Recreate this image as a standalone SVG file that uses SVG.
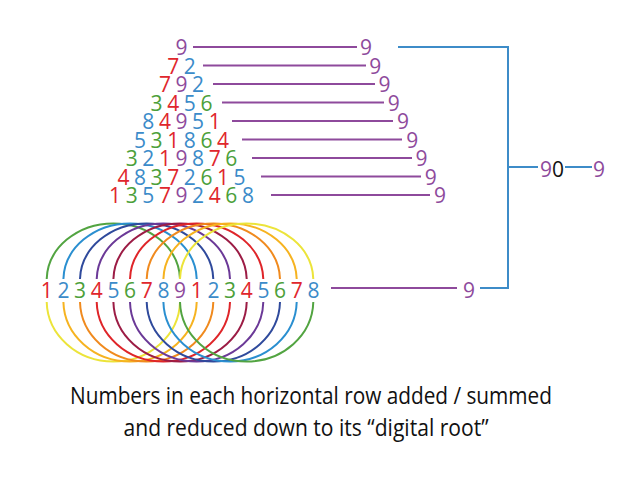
<svg xmlns="http://www.w3.org/2000/svg" width="640" height="502" viewBox="0 0 640 502">
<style>
text{font-family:"Open Sans","Noto Sans","Liberation Sans",sans-serif}
.d{font-size:21px;text-anchor:middle}
.r{fill:#e0262c}.b{fill:#3b8bc9}.g{fill:#4c9f3a}.p{fill:#8e4a9c}.k{fill:#111}
.pl{stroke:#8e4a9c;stroke-width:2;fill:none}
.bl{stroke:#3d8cc8;stroke-width:2;fill:none}
.arc{fill:none;stroke-width:2}
.cap{font-size:24.5px;fill:#111;text-anchor:middle}
</style>
<rect width="640" height="502" fill="#fff"/>

<g id="circles">
<path class="arc" stroke="#52a441" d="M46.7,279A66.67,57 0 0 1 180,279"/>
<path class="arc" stroke="#2a8fd0" d="M63.4,279A66.67,57 0 0 1 196.7,279"/>
<path class="arc" stroke="#2f4a9c" d="M80,279A66.67,57 0 0 1 213.3,279"/>
<path class="arc" stroke="#6b3997" d="M96.7,279A66.67,57 0 0 1 230,279"/>
<path class="arc" stroke="#9c1c45" d="M113.4,279A66.67,57 0 0 1 246.7,279"/>
<path class="arc" stroke="#df2529" d="M130,279A66.67,57 0 0 1 263.3,279"/>
<path class="arc" stroke="#f08a1e" d="M146.7,279A66.67,57 0 0 1 280,279"/>
<path class="arc" stroke="#f6b320" d="M163.4,279A66.67,57 0 0 1 296.7,279"/>
<path class="arc" stroke="#ece43a" d="M180,279A66.67,57 0 0 1 313.3,279"/>

<path class="arc" stroke="#ece43a" d="M46.7,302A66.67,61 0 0 0 180,302"/>
<path class="arc" stroke="#f6b320" d="M63.4,302A66.67,61 0 0 0 196.7,302"/>
<path class="arc" stroke="#f08a1e" d="M80,302A66.67,61 0 0 0 213.3,302"/>
<path class="arc" stroke="#df2529" d="M96.7,302A66.67,61 0 0 0 230,302"/>
<path class="arc" stroke="#9c1c45" d="M113.4,302A66.67,61 0 0 0 246.7,302"/>
<path class="arc" stroke="#6b3997" d="M130,302A66.67,61 0 0 0 263.3,302"/>
<path class="arc" stroke="#2f4a9c" d="M146.7,302A66.67,61 0 0 0 280,302"/>
<path class="arc" stroke="#2a8fd0" d="M163.4,302A66.67,61 0 0 0 296.7,302"/>
<path class="arc" stroke="#52a441" d="M180,302A66.67,61 0 0 0 313.3,302"/>
</g>

<g id="connectors">
<line class="pl" x1="193" y1="47" x2="357" y2="47"/>
<line class="pl" x1="203" y1="65.5" x2="366" y2="65.5"/>
<line class="pl" x1="213" y1="84" x2="375" y2="84"/>
<line class="pl" x1="222" y1="102.5" x2="384" y2="102.5"/>
<line class="pl" x1="232" y1="121" x2="393" y2="121"/>
<line class="pl" x1="242" y1="139.5" x2="402" y2="139.5"/>
<line class="pl" x1="252" y1="158" x2="412" y2="158"/>
<line class="pl" x1="261" y1="176.5" x2="421" y2="176.5"/>
<line class="pl" x1="271" y1="195" x2="430" y2="195"/>
<line class="pl" x1="331" y1="288" x2="457" y2="288"/>
<path class="bl" d="M398,47H508V288H480"/>
<line class="bl" x1="508" y1="167" x2="538" y2="167"/>
<line class="bl" x1="565" y1="167" x2="592" y2="167"/>
</g>

<g id="row1"><text class="d" y="55"><tspan class="p" x="181.5">9</tspan></text></g>
<g id="row2"><text class="d" y="73.5"><tspan class="r" x="173.2">7</tspan><tspan class="b" x="189.8">2</tspan></text></g>
<g id="row3"><text class="d" y="92"><tspan class="r" x="164.9">7</tspan><tspan class="p" x="181.5">9</tspan><tspan class="b" x="198.1">2</tspan></text></g>
<g id="row4"><text class="d" y="110.5"><tspan class="g" x="156.6">3</tspan><tspan class="r" x="173.2">4</tspan><tspan class="b" x="189.8">5</tspan><tspan class="g" x="206.4">6</tspan></text></g>
<g id="row5"><text class="d" y="129"><tspan class="b" x="148.3">8</tspan><tspan class="r" x="164.9">4</tspan><tspan class="p" x="181.5">9</tspan><tspan class="b" x="198.1">5</tspan><tspan class="r" x="214.7">1</tspan></text></g>
<g id="row6"><text class="d" y="147.5"><tspan class="b" x="140">5</tspan><tspan class="g" x="156.6">3</tspan><tspan class="r" x="173.2">1</tspan><tspan class="b" x="189.8">8</tspan><tspan class="g" x="206.4">6</tspan><tspan class="r" x="223">4</tspan></text></g>
<g id="row7"><text class="d" y="166"><tspan class="g" x="131.7">3</tspan><tspan class="b" x="148.3">2</tspan><tspan class="r" x="164.9">1</tspan><tspan class="p" x="181.5">9</tspan><tspan class="b" x="198.1">8</tspan><tspan class="r" x="214.7">7</tspan><tspan class="g" x="231.3">6</tspan></text></g>
<g id="row8"><text class="d" y="184.5"><tspan class="r" x="123.4">4</tspan><tspan class="b" x="140">8</tspan><tspan class="g" x="156.6">3</tspan><tspan class="r" x="173.2">7</tspan><tspan class="b" x="189.8">2</tspan><tspan class="g" x="206.4">6</tspan><tspan class="r" x="223">1</tspan><tspan class="b" x="239.6">5</tspan></text></g>
<g id="row9"><text class="d" y="203"><tspan class="r" x="115.1">1</tspan><tspan class="g" x="131.7">3</tspan><tspan class="b" x="148.3">5</tspan><tspan class="r" x="164.9">7</tspan><tspan class="p" x="181.5">9</tspan><tspan class="b" x="198.1">2</tspan><tspan class="r" x="214.7">4</tspan><tspan class="g" x="231.3">6</tspan><tspan class="b" x="247.9">8</tspan></text></g>

<g id="sums">
<text class="d p" x="366" y="55">9</text>
<text class="d p" x="375.3" y="73.5">9</text>
<text class="d p" x="384.5" y="92">9</text>
<text class="d p" x="393.8" y="110.5">9</text>
<text class="d p" x="403" y="129">9</text>
<text class="d p" x="412.3" y="147.5">9</text>
<text class="d p" x="421.5" y="166">9</text>
<text class="d p" x="430.8" y="184.5">9</text>
<text class="d p" x="440" y="203">9</text>
</g>

<g id="bottomrow"><text class="d" y="297.5"><tspan class="r" x="46.7">1</tspan><tspan class="b" x="63.4">2</tspan><tspan class="g" x="80">3</tspan><tspan class="r" x="96.7">4</tspan><tspan class="b" x="113.4">5</tspan><tspan class="g" x="130">6</tspan><tspan class="r" x="146.7">7</tspan><tspan class="b" x="163.4">8</tspan><tspan class="p" x="180">9</tspan><tspan class="r" x="196.7">1</tspan><tspan class="b" x="213.4">2</tspan><tspan class="g" x="230">3</tspan><tspan class="r" x="246.7">4</tspan><tspan class="b" x="263.4">5</tspan><tspan class="g" x="280">6</tspan><tspan class="r" x="296.7">7</tspan><tspan class="b" x="313.4">8</tspan></text></g>
<g id="bottomsum"><text class="d p" x="469" y="297.5">9</text></g>

<g id="total"><text class="d" y="177"><tspan class="p" x="546">9</tspan><tspan class="k" x="558">0</tspan></text></g>
<g id="result"><text class="d p" x="599" y="177">9</text></g>

<g id="caption">
<text class="cap" x="311" y="404" textLength="482" lengthAdjust="spacingAndGlyphs">Numbers in each horizontal row added / summed</text>
<text class="cap" x="306" y="436" textLength="365" lengthAdjust="spacingAndGlyphs">and reduced down to its “digital root”</text>
</g>
</svg>
